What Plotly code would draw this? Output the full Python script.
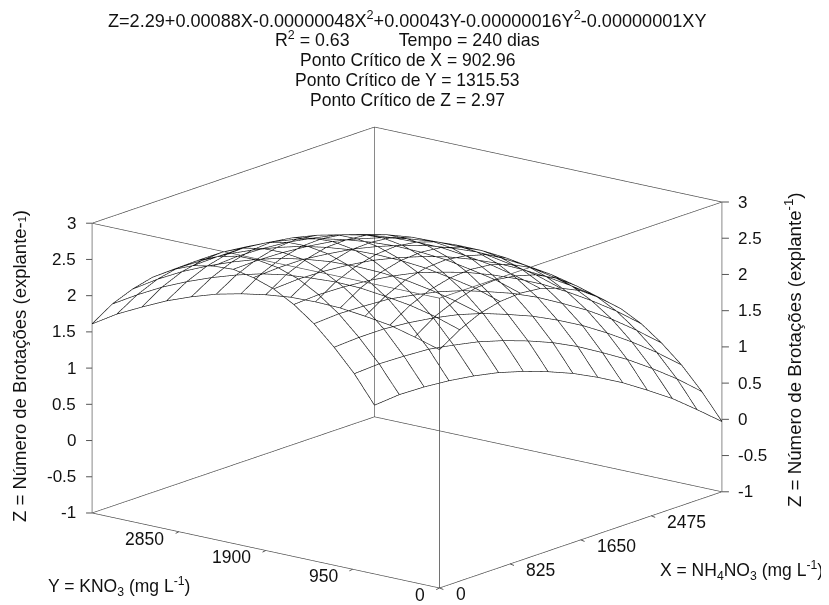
import plotly.graph_objects as go

x_values = [0, 235.7, 471.4, 707.1, 942.9, 1178.6, 1414.3, 1650, 1885.7, 2121.4, 2357.1, 2592.9, 2828.6, 3064.3, 3300]
y_values = [0, 271.4, 542.9, 814.3, 1085.7, 1357.1, 1628.6, 1900, 2171.4, 2442.9, 2714.3, 2985.7, 3257.1, 3528.6, 3800]
# one row per X value, one column per Y value
z_rows = [
    [2.29, 2.39, 2.48, 2.53, 2.57, 2.58, 2.57, 2.53, 2.47, 2.39, 2.28, 2.15, 1.99, 1.82, 1.61],
    [2.47, 2.58, 2.66, 2.71, 2.75, 2.76, 2.74, 2.71, 2.65, 2.56, 2.45, 2.32, 2.17, 1.99, 1.79],
    [2.60, 2.70, 2.78, 2.84, 2.87, 2.88, 2.87, 2.83, 2.77, 2.68, 2.57, 2.44, 2.29, 2.11, 1.90],
    [2.67, 2.78, 2.85, 2.91, 2.94, 2.95, 2.94, 2.90, 2.84, 2.75, 2.64, 2.51, 2.35, 2.17, 1.97],
    [2.69, 2.80, 2.87, 2.93, 2.96, 2.97, 2.95, 2.91, 2.85, 2.77, 2.66, 2.52, 2.37, 2.18, 1.98],
    [2.66, 2.76, 2.84, 2.89, 2.93, 2.93, 2.92, 2.88, 2.81, 2.73, 2.62, 2.48, 2.33, 2.14, 1.94],
    [2.57, 2.68, 2.75, 2.81, 2.84, 2.84, 2.83, 2.79, 2.72, 2.64, 2.52, 2.39, 2.23, 2.05, 1.84],
    [2.44, 2.54, 2.61, 2.67, 2.70, 2.70, 2.68, 2.64, 2.58, 2.49, 2.38, 2.24, 2.08, 1.90, 1.70],
    [2.24, 2.34, 2.42, 2.47, 2.50, 2.51, 2.49, 2.45, 2.38, 2.29, 2.18, 2.04, 1.89, 1.70, 1.49],
    [2.00, 2.10, 2.17, 2.22, 2.25, 2.26, 2.24, 2.20, 2.13, 2.04, 1.93, 1.79, 1.63, 1.45, 1.24],
    [1.70, 1.80, 1.87, 1.92, 1.95, 1.95, 1.93, 1.89, 1.82, 1.74, 1.62, 1.48, 1.32, 1.14, 0.93],
    [1.34, 1.44, 1.52, 1.57, 1.59, 1.60, 1.58, 1.53, 1.47, 1.38, 1.26, 1.13, 0.96, 0.78, 0.57],
    [0.94, 1.04, 1.11, 1.16, 1.19, 1.19, 1.17, 1.12, 1.06, 0.97, 0.85, 0.71, 0.55, 0.36, 0.15],
    [0.48, 0.58, 0.65, 0.70, 0.72, 0.73, 0.71, 0.66, 0.59, 0.50, 0.38, 0.25, 0.08, -0.10, -0.31],
    [-0.03, 0.06, 0.14, 0.18, 0.21, 0.21, 0.19, 0.14, 0.07, -0.02, -0.14, -0.28, -0.44, -0.62, -0.84],
]
x_ticks = [0, 825, 1650, 2475]
y_ticks = [0, 950, 1900, 2850]
z_ticks = [-1, -0.5, 0, 0.5, 1, 1.5, 2, 2.5, 3]
x_range = [0, 3300]
y_range = [0, 3800]
z_range = [-1, 3]
title_lines = [
    "Z=2.29+0.00088X-0.00000048X<sup>2</sup>+0.00043Y-0.00000016Y<sup>2</sup>-0.00000001XY",
    "R<sup>2</sup> = 0.63          Tempo = 240 dias",
    "Ponto Crítico de X = 902.96",
    "Ponto Crítico de Y = 1315.53",
    "Ponto Crítico de Z = 2.97",
]

FONT = "Liberation Sans"
INK = "#111111"
# the page keeps an 8 px body margin, so the figure is 8 px smaller than the window
W, H = 821, 597


def px(v):
    return (v - 8) / W


def py(v):
    return 1 - (v - 8) / H


# wire mesh: one polyline per grid row and per grid column
mx, my, mz = [], [], []
for i, xv in enumerate(x_values):
    for j, yv in enumerate(y_values):
        mx.append(xv); my.append(yv); mz.append(z_rows[i][j])
    mx.append(None); my.append(None); mz.append(None)
for j, yv in enumerate(y_values):
    for i, xv in enumerate(x_values):
        mx.append(xv); my.append(yv); mz.append(z_rows[i][j])
    mx.append(None); my.append(None); mz.append(None)

# the twelve edges of the axis box, taken from the axis ranges
bx, by, bz = [], [], []
for a in y_range:
    for b in z_range:
        bx += [x_range[0], x_range[1], None]; by += [a, a, None]; bz += [b, b, None]
for a in x_range:
    for b in z_range:
        bx += [a, a, None]; by += [y_range[0], y_range[1], None]; bz += [b, b, None]
for a in x_range:
    for b in y_range:
        bx += [a, a, None]; by += [b, b, None]; bz += [z_range[0], z_range[1], None]

fig = go.Figure()
fig.add_trace(go.Scatter3d(x=bx, y=by, z=bz, mode="lines",
                           line=dict(color="#444444", width=1.3), hoverinfo="skip", showlegend=False))
fig.add_trace(go.Scatter3d(x=mx, y=my, z=mz, mode="lines",
                           line=dict(color=INK, width=1.3), hoverinfo="skip", showlegend=False))


def tick(x, y, z, text, ax, ay, xanchor, stand, size=17):
    return dict(x=x, y=y, z=z, text=text, showarrow=True, ax=ax, ay=ay, arrowhead=0,
                arrowwidth=1, arrowcolor="#555555", startstandoff=stand, standoff=0,
                xanchor=xanchor, yanchor="middle", borderpad=0,
                font=dict(family=FONT, size=size, color=INK))


scene_ann = []
for zv in z_ticks:
    scene_ann.append(tick(x_range[0], y_range[1], zv, f"{zv:g}", -15, 0, "right", 9))
    scene_ann.append(tick(x_range[1], y_range[0], zv, f"{zv:g}", 15, 0, "left", 8))
for xv in x_ticks:
    scene_ann.append(tick(xv, y_range[0], z_range[0], f"{xv}", 15, 6, "left", 12, 17.5))
for yv in y_ticks:
    scene_ann.append(tick(x_range[0], yv, z_range[0], f"{yv}", -14, 7, "right", 12, 17.5))

paper_ann = []
for text, ypx, size in zip(title_lines, [20, 39, 60, 80, 100], [18.1, 17.8, 17.5, 17.5, 17.5]):
    paper_ann.append(dict(x=px(407.5), y=py(ypx), xref="paper", yref="paper", text=text,
                          showarrow=False, xanchor="center", yanchor="middle",
                          font=dict(family=FONT, size=size, color=INK)))
paper_ann += [
    dict(x=px(46), y=py(586), xref="paper", yref="paper", xanchor="left", yanchor="middle",
         text="Y = KNO<sub>3</sub> (mg L<sup>-1</sup>)", showarrow=False,
         font=dict(family=FONT, size=17.5, color=INK)),
    dict(x=px(658), y=py(570), xref="paper", yref="paper", xanchor="left", yanchor="middle",
         text="X = NH<sub>4</sub>NO<sub>3</sub> (mg L<sup>-1</sup>)", showarrow=False,
         font=dict(family=FONT, size=17.5, color=INK)),
    dict(x=px(19), y=py(366), xref="paper", yref="paper", xanchor="center", yanchor="middle",
         text="Z = Número de Brotações (explante-<span style=\"font-size:11px\">1</span>)",
         textangle=-90, showarrow=False,
         font=dict(family=FONT, size=18.5, color=INK)),
    dict(x=px(793), y=py(350), xref="paper", yref="paper", xanchor="center", yanchor="middle",
         text="Z = Número de Brotações (explante<sup>-1</sup>)", textangle=-90, showarrow=False,
         font=dict(family=FONT, size=18.7, color=INK)),
]


def axis(rng, pad):
    return dict(range=[rng[0] - pad, rng[1] + pad], autorange=False, showgrid=False, zeroline=False,
                showbackground=False, showspikes=False, showticklabels=False, ticks="",
                ticklen=0, title=dict(text=""), showline=False)


R = 2.0
K = 1.83
fig.update_layout(
    width=W, height=H, paper_bgcolor="white", margin=dict(l=0, r=0, t=0, b=0),
    showlegend=False, annotations=paper_ann,
    scene=dict(
        domain=dict(x=[0, 798 / W], y=[0, 495 / H]),
        xaxis=axis(x_range, 3), yaxis=axis(y_range, 3), zaxis=axis(z_range, 0.004),
        aspectmode="manual", aspectratio=dict(x=1.003 * K, y=0.982 * K, z=0.666 * K),
        camera=dict(projection=dict(type="orthographic"),
                    up=dict(x=0, y=0, z=1), center=dict(x=0, y=0, z=0),
                    eye=dict(x=-0.75 * R, y=-0.597 * R, z=0.27 * R)),
        annotations=scene_ann,
    ),
)
fig.write_html("out.html", config=dict(displayModeBar=False))
